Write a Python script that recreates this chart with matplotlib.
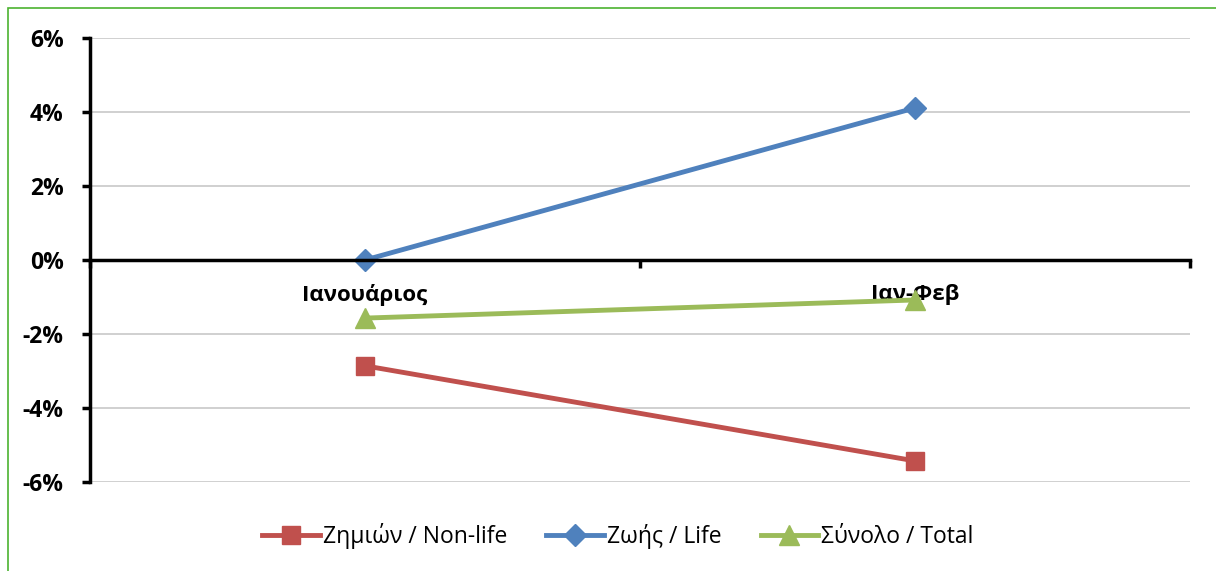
import matplotlib.pyplot as plt
from matplotlib.patches import Rectangle
from matplotlib.ticker import FuncFormatter, FixedLocator, NullFormatter

categories = ['Ιανουάριος', 'Ιαν-Φεβ']
non_life = [-2.86, -5.43]
life = [0.0, 4.11]
total = [-1.57, -1.08]
y_ticks = [-6, -4, -2, 0, 2, 4, 6]

plt.rcParams['font.family'] = ['Open Sans', 'DejaVu Sans']

fig = plt.figure(figsize=(12.16, 5.71), dpi=100)
ax = fig.add_axes([90 / 1216, 1 - 482 / 571, 1100 / 1216, 444 / 571])

x = range(len(categories))
ax.plot(x, non_life, color='#C0504D', lw=3.5, marker='s', ms=13, label='Ζημιών / Non-life')
ax.plot(x, life, color='#4F81BD', lw=3.5, marker='D', ms=11, label='Ζωής / Life')
ax.plot(x, total, color='#9BBB59', lw=3.5, marker='^', ms=14, label='Σύνολο / Total')

ax.set_xlim(-0.5, len(categories) - 0.5)
ax.set_ylim(-6, 6)
ax.set_yticks(y_ticks)
ax.yaxis.set_major_formatter(FuncFormatter(lambda v, p: f'{v:.0f}%'))
ax.grid(axis='y', color='#C8C8C8', lw=1.2)
ax.set_axisbelow(True)

ax.spines['top'].set_visible(False)
ax.spines['right'].set_visible(False)
ax.spines['left'].set_linewidth(2.5)
ax.spines['bottom'].set_position(('data', 0))
ax.spines['bottom'].set_linewidth(2.5)

ax.xaxis.set_major_locator(FixedLocator([-0.5, 0.5, 1.5]))
ax.xaxis.set_major_formatter(NullFormatter())
ax.xaxis.set_minor_locator(FixedLocator(list(x)))
ax.set_xticklabels(categories, minor=True, fontsize=16, fontweight='bold')
ax.tick_params(axis='x', which='major', length=6, width=2.5, direction='out')
ax.tick_params(axis='x', which='minor', length=0, pad=17)
ax.tick_params(axis='y', length=6, width=2.5, labelsize=16.5, pad=13)
for lbl in ax.get_yticklabels():
    lbl.set_fontweight('bold')

ax.legend(loc='upper center', bbox_to_anchor=(0.48, -0.047), ncol=3, frameon=False,
          fontsize=16.5, handlelength=2.5, columnspacing=1.7, handletextpad=0.15)

fig.patches.append(Rectangle((8 / 1216, -0.05), 1.1, 1 - 8 / 571 + 0.05,
                             transform=fig.transFigure, fill=False,
                             edgecolor='#4CB330', lw=1.2))

fig.savefig('out.png', dpi=100)
